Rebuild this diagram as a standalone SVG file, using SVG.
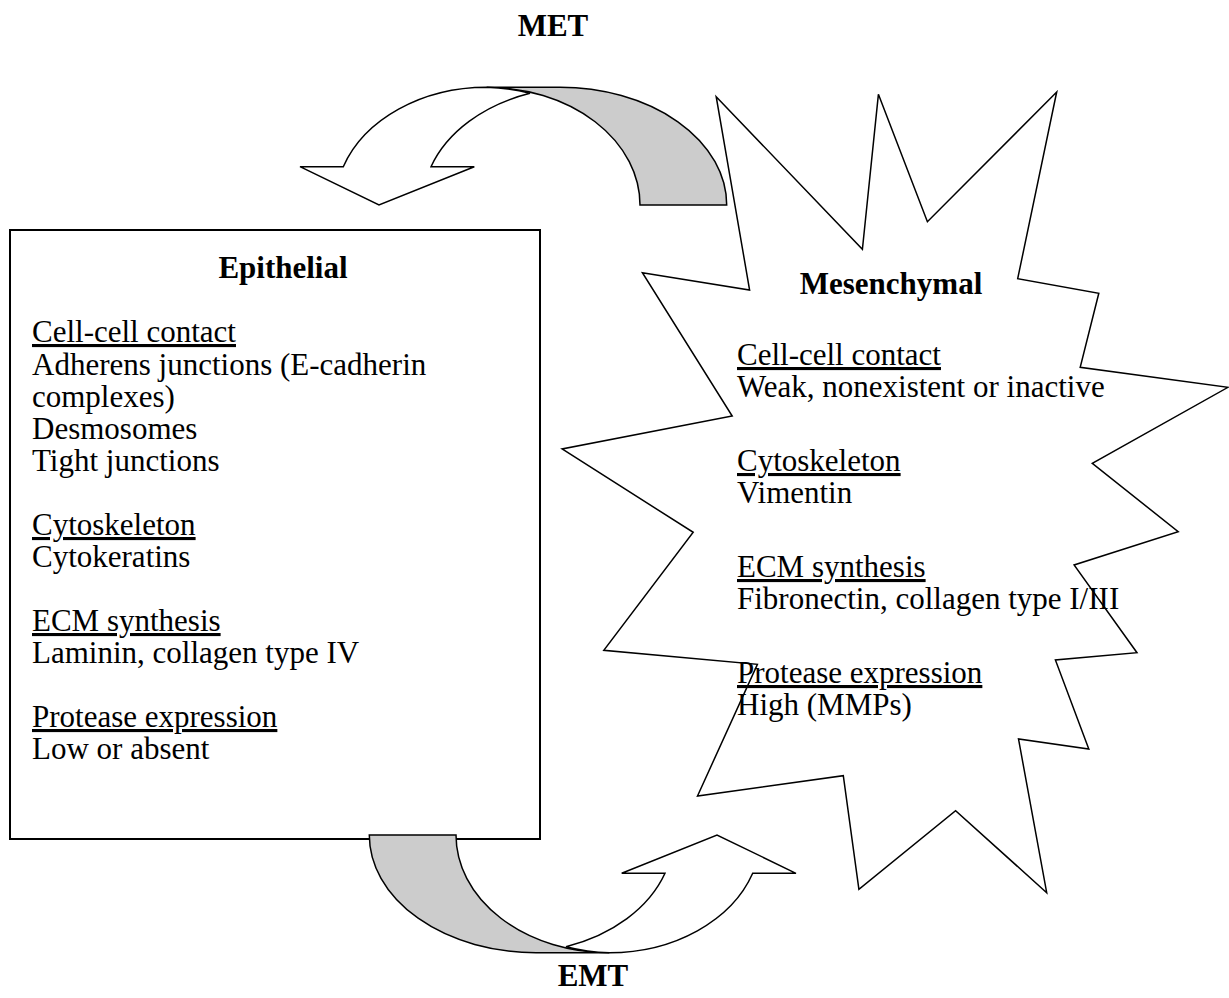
<svg xmlns="http://www.w3.org/2000/svg" xmlns:xlink="http://www.w3.org/1999/xlink" width="1229" height="998" viewBox="0 0 1229 998">
<style>
.t{font-family:"Liberation Serif","Times New Roman",serif;font-size:31px;fill:#000}
.b{font-weight:bold}
.u{text-decoration:underline}
.gray{fill:#cccccc;stroke:#000;stroke-width:1.5}
.wh{fill:#fff;stroke:#000;stroke-width:1.5}
</style>
<defs>
<g id="curvedArrow">
<path class="gray" d="M486.7,87.3 L560,87.3 A166.7,117.7 0 0 1 726.7,205 L640,205 A153.3,117.7 0 0 0 486.7,87.3 Z"/>
<path class="wh" d="M343.3,166.7 L300,166.7 L379,205 L474.3,166.7 L431,166.7 A157.5,117.8 0 0 1 530,93.3 A153.3,117.7 0 0 0 486.7,87.3 A151.7,117.7 0 0 0 343.3,166.7 Z"/>
</g>
</defs>
<g id="epithelial">
<rect x="10" y="230" width="530" height="609" fill="#fff" stroke="#000" stroke-width="2"/>
<text class="t b" x="283" y="278" text-anchor="middle">Epithelial</text>
<text class="t u" x="32" y="342">Cell-cell contact</text>
<text class="t" x="32" y="375">Adherens junctions (E-cadherin</text>
<text class="t" x="32" y="407">complexes)</text>
<text class="t" x="32" y="439">Desmosomes</text>
<text class="t" x="32" y="471">Tight junctions</text>
<text class="t u" x="32" y="535">Cytoskeleton</text>
<text class="t" x="32" y="567">Cytokeratins</text>
<text class="t u" x="32" y="631">ECM synthesis</text>
<text class="t" x="32" y="663">Laminin, collagen type IV</text>
<text class="t u" x="32" y="727">Protease expression</text>
<text class="t" x="32" y="759">Low or absent</text>
</g>
<g id="mesenchymal">
<polygon class="wh" points="716.2,96.7 862.4,249.3 878.4,94.3 927.4,221.7 1056.7,92 1017.7,278.7 1098.8,293.3 1080.2,367.3 1228,387.3 1092.3,463.3 1178.2,531.7 1074.1,565 1137,652.7 1055.4,660 1088.8,749 1018.5,739 1046.7,892.7 955.6,810.7 858.9,889.3 843.3,775.7 697.5,796 757.4,664.3 603.8,650.3 693.2,532.3 562.1,449 732.2,416 642.4,272.7 749.6,290"/>
<text class="t b" x="891" y="294" text-anchor="middle">Mesenchymal</text>
<text class="t u" x="737" y="365">Cell-cell contact</text>
<text class="t" x="737" y="397">Weak, nonexistent or inactive</text>
<text class="t u" x="737" y="471">Cytoskeleton</text>
<text class="t" x="737" y="503">Vimentin</text>
<text class="t u" x="737" y="577">ECM synthesis</text>
<text class="t" x="737" y="609">Fibronectin, collagen type I/III</text>
<text class="t u" x="737" y="683">Protease expression</text>
<text class="t" x="737" y="715">High (MMPs)</text>
</g>
<g id="connectors">
<g id="met-arrow"><use xlink:href="#curvedArrow"/></g>
<g id="emt-arrow"><use xlink:href="#curvedArrow" transform="rotate(180 548 520)"/></g>
</g>
<g id="labels">
<text class="t b" x="553" y="36" text-anchor="middle">MET</text>
<text class="t b" x="593" y="986" text-anchor="middle">EMT</text>
</g>
</svg>
